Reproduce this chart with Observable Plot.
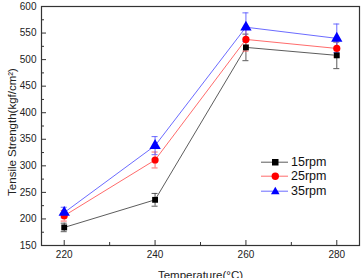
<!DOCTYPE html>
<html>
<head>
<meta charset="utf-8">
<script src="https://cdn.jsdelivr.net/npm/d3@7"></script>
<script src="https://cdn.jsdelivr.net/npm/@observablehq/plot@0.6"></script>
<style>
  body { margin: 0; background: #fff; }
  #wrap { position: relative; width: 362px; height: 278px; overflow: hidden; font-family: "Liberation Sans", Arial, sans-serif; }
  #wrap svg { font-family: "Liberation Sans", Arial, sans-serif; }
  g[aria-label="x-axis tick label"], g[aria-label="y-axis tick label"] { font-size: 10px; fill: #222; }
  .legend { position: absolute; left: 261px; top: 155px; font-size: 12.5px; color: #111; }
  .legend div { display: flex; align-items: center; height: 14.3px; }
  .legend svg { margin-right: 2px; }
</style>
</head>
<body>
<div id="wrap"></div>
<script>
// Extrusion temperature (°C) on the x axis
const temperatures = [220, 240, 260, 280];

// Screw speed series
const seriesNames = ["15rpm", "25rpm", "35rpm"];
const strength15 = [184, 236, 523, 508];
const strength25 = [206, 311, 538, 521];
const strength35 = [212, 338, 561, 540];
const error15 = [8, 12, 25, 25];
const error25 = [10, 15, 22, 16];
const error35 = [10, 17, 27, 27];

// Axis ticks and titles
const xTicks = [220, 240, 260, 280];
const xMinorTicks = [230, 250, 270];
const yTicks = [150, 200, 250, 300, 350, 400, 450, 500, 550, 600];
const yMinorTicks = [175, 225, 275, 325, 375, 425, 475, 525, 575];
const xTitle = "Temperature(°C)";
const yTitle = "Tensile Strength(kgf/cm²)";

const markColors = ["#000000", "#ff0000", "#0000ff"];
const lineColors = ["#4a4a4a", "#ff5a5a", "#5a5aff"];
const symbols = ["square", "circle", "triangle"];
const symbolR = [3.3, 3.6, 4.2];

const values = [strength15, strength25, strength35];
const errors = [error15, error25, error35];

const rows = [];
seriesNames.forEach((name, s) => {
  temperatures.forEach((t, i) => {
    rows.push({ series: name, s, temp: t, value: values[s][i], err: errors[s][i] });
  });
});

const marks = [];
seriesNames.forEach((name, s) => {
  const data = rows.filter(d => d.s === s);
  marks.push(
    Plot.line(data, { x: "temp", y: "value", stroke: lineColors[s], strokeWidth: 0.9 }),
    Plot.ruleX(data, { x: "temp", y1: d => d.value - d.err, y2: d => d.value + d.err, stroke: lineColors[s], strokeWidth: 0.9 }),
    Plot.ruleY(data, { y: d => d.value - d.err, x1: "temp", x2: "temp", insetLeft: -3, insetRight: -3, stroke: lineColors[s], strokeWidth: 0.9 }),
    Plot.ruleY(data, { y: d => d.value + d.err, x1: "temp", x2: "temp", insetLeft: -3, insetRight: -3, stroke: lineColors[s], strokeWidth: 0.9 })
  );
});
seriesNames.forEach((name, s) => {
  const data = rows.filter(d => d.s === s);
  marks.push(Plot.dot(data, { x: "temp", y: "value", symbol: () => symbols[s], r: symbolR[s], fill: markColors[s], stroke: "none" }));
});

const chart = Plot.plot({
  width: 362,
  height: 278,
  marginLeft: 41,
  marginRight: 3,
  marginTop: 6,
  marginBottom: 33,
  style: { background: "#fff", color: "#222" },
  x: { domain: [215, 285] },
  y: { domain: [150, 600] },
  symbol: { type: "identity" },
  marks: [
    ...marks,
    Plot.axisX({ ticks: xTicks, tickSize: -5, tickPadding: 10, stroke: "#333", label: null }),
    Plot.axisX({ ticks: xMinorTicks, tickSize: -3, tickFormat: () => "", stroke: "#333", label: null }),
    Plot.axisY({ ticks: yTicks, tickSize: -5, tickPadding: 10, stroke: "#333", label: null }),
    Plot.axisY({ ticks: yMinorTicks, tickSize: -3, tickFormat: () => "", stroke: "#333", label: null }),
    Plot.frame({ stroke: "#333", strokeWidth: 1.2 }),
    Plot.text([xTitle], { text: d => d, frameAnchor: "bottom", textAnchor: "middle", lineAnchor: "top", dy: 25, fontSize: 11.5, fill: "#222" }),
    Plot.text([yTitle], { text: d => d, frameAnchor: "left", textAnchor: "middle", rotate: -90, lineAnchor: "middle", dx: -29, dy: 6, fontSize: 11.5, fill: "#222" })
  ]
});

const wrap = document.getElementById("wrap");
wrap.appendChild(chart);

// Legend: short line with the series marker, then its name
const legend = document.createElement("div");
legend.className = "legend";
const shapes = [
  c => `<rect x="11" y="4" width="6.5" height="6.5" fill="${c}"/>`,
  c => `<circle cx="14.3" cy="7.2" r="3.7" fill="${c}"/>`,
  c => `<path d="M14.3,2.8 L18.6,10.3 L10,10.3 Z" fill="${c}"/>`
];
seriesNames.forEach((name, s) => {
  const row = document.createElement("div");
  row.innerHTML = `<svg width="28" height="14"><line x1="0" y1="7.2" x2="27" y2="7.2" stroke="${lineColors[s]}" stroke-width="0.9"/>${shapes[s](markColors[s])}</svg><span>${name}</span>`;
  legend.appendChild(row);
});
wrap.appendChild(legend);
</script>
</body>
</html>
